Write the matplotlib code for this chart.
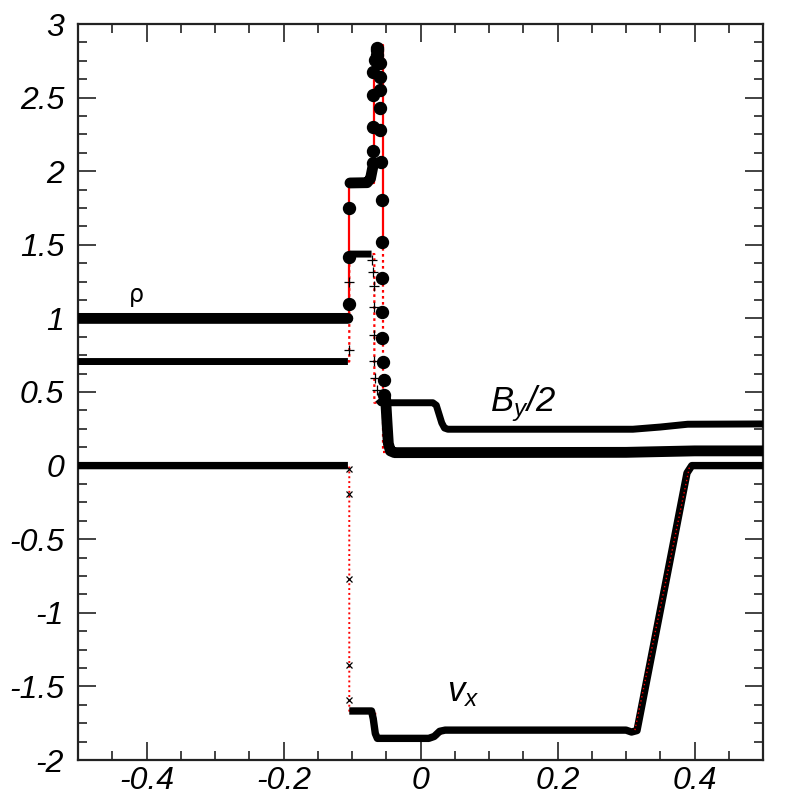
import numpy as np
import matplotlib
matplotlib.use("Agg")
import matplotlib.pyplot as plt
from matplotlib.ticker import MultipleLocator
from matplotlib import font_manager

nan = np.nan

# ---------------- data ----------------
# density rho : dense runs of overlapping markers (NaN separates runs)
rho_run_x = [-0.5, -0.106, nan, -0.103, -0.078, -0.073, -0.070, nan,
             -0.051, -0.049, -0.047, -0.044, -0.038, 0.30, 0.40, 0.5]
rho_run_y = [1.0, 1.0, nan, 1.92, 1.922, 1.95, 2.02, nan,
             0.46, 0.30, 0.15, 0.10, 0.088, 0.09, 0.10, 0.10]
# isolated rho points in the jumps
rho_pts_x = [-0.104, -0.104, -0.104,
             -0.069, -0.069, -0.069, -0.069, -0.069, -0.066, -0.064, -0.064, -0.063,
             -0.059, -0.059, -0.059, -0.059, -0.059, -0.058,
             -0.0567, -0.0567, -0.0567, -0.0567, -0.056, -0.055, -0.054, -0.054]
rho_pts_y = [1.10, 1.415, 1.748,
             2.054, 2.14, 2.298, 2.518, 2.676, 2.755, 2.79, 2.823, 2.84,
             2.733, 2.642, 2.552, 2.427, 2.28, 2.065,
             1.804, 1.521, 1.272, 1.045, 0.87, 0.706, 0.582, 0.48]

# B_y / 2
by_run_x = [-0.5, -0.106, nan, -0.103, -0.0715, nan,
            -0.062, -0.058, 0.018, 0.023, 0.027, 0.031, 0.035, 0.040,
            0.31, 0.35, 0.39, 0.5]
by_run_y = [0.707, 0.707, nan, 1.437, 1.437, nan,
            0.45, 0.427, 0.427, 0.41, 0.35, 0.29, 0.255, 0.247,
            0.247, 0.262, 0.281, 0.283]
by_pts_x = [-0.104, -0.104, -0.104, -0.0713, -0.0689, -0.0674, -0.0674,
            -0.0674, -0.0674, -0.066, -0.064]
by_pts_y = [0.785, 1.25, 1.41, 1.397, 1.318, 1.22, 1.08,
            0.887, 0.713, 0.593, 0.513]

# v_x
vx_run_x = [-0.5, -0.106, nan, -0.104, -0.0715, -0.069, -0.066, -0.063,
            0.012, 0.020, 0.028, 0.036, 0.300, 0.308, 0.316, 0.389, 0.396, 0.5]
vx_run_y = [0.0, 0.0, nan, -1.667, -1.667, -1.72, -1.82, -1.853,
            -1.853, -1.84, -1.805, -1.797, -1.797, -1.81, -1.80, -0.05, 0.0, 0.0]
vx_pts_x = [-0.104, -0.104, -0.104, -0.104, -0.104]
vx_pts_y = [-0.025, -0.193, -0.77, -1.355, -1.59]

# reference (exact) solutions, red
rho_ex_x = [-0.5, -0.104, -0.104, -0.0674, -0.0674, -0.0543, -0.0543]
rho_ex_y = [1.0, 1.0, 1.92, 1.92, 2.857, 2.857, 1.52]
rho_ex2_x = [-0.0543, -0.0543, 0.5]
rho_ex2_y = [1.52, 0.09, 0.09]
by_ex_x = [-0.5, -0.104, -0.104, -0.0674, -0.0674, 0.022, 0.036, 0.312, 0.393, 0.5]
by_ex_y = [0.707, 0.707, 1.437, 1.437, 0.427, 0.427, 0.247, 0.247, 0.283, 0.283]
vx_ex_x = [-0.5, -0.104, -0.104, -0.066, -0.066, 0.022, 0.036, 0.313, 0.393, 0.5]
vx_ex_y = [0.0, 0.0, -1.667, -1.667, -1.853, -1.853, -1.797, -1.797, 0.0, 0.0]

x_ticks = [-0.4, -0.2, 0.0, 0.2, 0.4]
x_tick_labels = ["-0.4", "-0.2", "0", "0.2", "0.4"]
y_ticks = [-2, -1.5, -1, -0.5, 0, 0.5, 1, 1.5, 2, 2.5, 3]
y_tick_labels = ["-2", "-1.5", "-1", "-0.5", "0", "0.5", "1", "1.5", "2", "2.5", "3"]

# ---------------- style ----------------
names = {f.name for f in font_manager.fontManager.ttflist}
FAM = "Liberation Sans Narrow" if "Liberation Sans Narrow" in names else "Liberation Sans"
plt.rcParams["font.family"] = [FAM, "DejaVu Sans"]
plt.rcParams["axes.unicode_minus"] = False
plt.rcParams["mathtext.fontset"] = "custom"
plt.rcParams["mathtext.it"] = FAM + ":italic"
plt.rcParams["mathtext.rm"] = FAM + ":italic"
TICK_FS = 25 if FAM.endswith("Narrow") else 23

fig = plt.figure(figsize=(8, 8), dpi=100)
ax = fig.add_axes([0.0975, 0.05, 0.8563, 0.92])

RED = "#ff0000"
# exact solutions underneath
ax.plot(rho_ex_x, rho_ex_y, color=RED, lw=1.6, zorder=2)
ax.plot(rho_ex2_x, rho_ex2_y, color=RED, lw=1.6, ls=(0, (1.2, 1.5)), zorder=2)
ax.plot(by_ex_x, by_ex_y, color=RED, lw=1.6, ls=(0, (1.2, 1.5)), zorder=2)
ax.plot(vx_ex_x, vx_ex_y, color=RED, lw=1.4, ls=(0, (1.0, 1.5)), zorder=2)

# dense runs of markers
ax.plot(rho_run_x, rho_run_y, color="black", lw=7.8, solid_capstyle="round",
        solid_joinstyle="round", zorder=4)
ax.plot(by_run_x, by_run_y, color="black", lw=5.0, solid_capstyle="butt",
        solid_joinstyle="round", zorder=3)
ax.plot(vx_run_x, vx_run_y, color="black", lw=5.3, solid_capstyle="butt",
        solid_joinstyle="round", zorder=3)

# isolated markers
ax.plot(rho_pts_x, rho_pts_y, "o", color="black", ms=8.6, zorder=4)
ax.plot(by_pts_x, by_pts_y, "+", color="black", ms=6.5, mew=0.9, zorder=5)
ax.plot(vx_pts_x, vx_pts_y, "x", color="black", ms=5, mew=0.9, zorder=5)

# red dotted centre of the v_x rarefaction ramp is visible through the markers
vx_ex_arr_x = np.array(vx_ex_x)
vx_ex_arr_y = np.array(vx_ex_y)
sel = (vx_ex_arr_x > 0.3) & (vx_ex_arr_x < 0.4)
ax.plot(vx_ex_arr_x[sel], vx_ex_arr_y[sel], color=RED, lw=1.0,
        ls=(0, (1.0, 2.0)), zorder=6)

# labels
ax.text(-0.415, 1.16, "ρ", fontsize=17, ha="center", va="center",
        style="normal", family=["DejaVu Sans"])
ax.text(0.101, 0.37, r"$B_y/2$", fontsize=25, ha="left", va="baseline")
ax.text(0.038, -1.60, r"$v_x$", fontsize=25, ha="left", va="baseline")

# axes
ax.set_xlim(-0.5, 0.5)
ax.set_ylim(-2, 3)
ax.set_xticks(x_ticks)
ax.set_xticklabels(x_tick_labels)
ax.set_yticks(y_ticks)
ax.set_yticklabels(y_tick_labels)
ax.xaxis.set_minor_locator(MultipleLocator(0.05))
ax.yaxis.set_minor_locator(MultipleLocator(0.125))
ax.tick_params(which="both", direction="in", top=True, right=True,
               color="#222222", width=1.2)
ax.tick_params(which="major", length=13)
ax.tick_params(which="minor", length=6.5)
ax.tick_params(axis="y", which="major", pad=10, labelsize=TICK_FS)
ax.tick_params(axis="x", which="major", pad=4, labelsize=TICK_FS)
for lab in ax.get_xticklabels() + ax.get_yticklabels():
    lab.set_fontstyle("italic")
for s in ax.spines.values():
    s.set_linewidth(1.6)
    s.set_color("#222222")

fig.savefig("out.png", dpi=100)
